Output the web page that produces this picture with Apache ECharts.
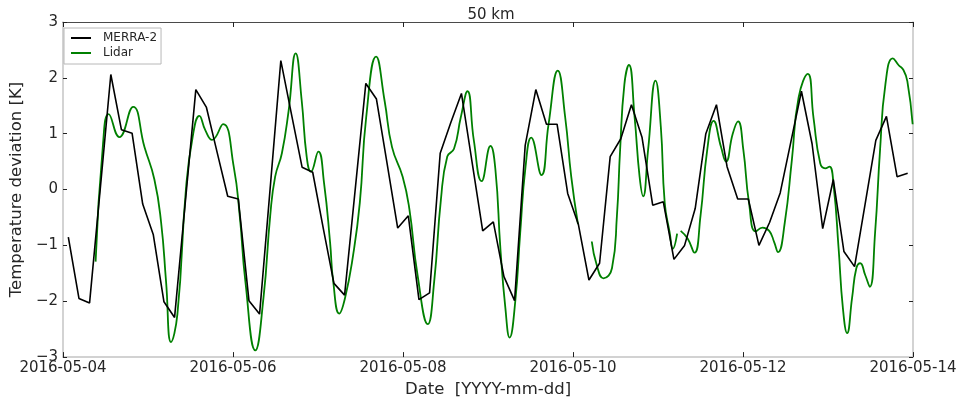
<!DOCTYPE html>
<html>
<head>
<meta charset="utf-8">
<script src="https://cdn.jsdelivr.net/npm/echarts@6/dist/echarts.min.js"></script>
<style>
  html, body { margin: 0; padding: 0; background: #fff; }
  #chart { width: 960px; height: 403px; }
</style>
</head>
<body>
<div id="chart"></div>
<script>
// Temperature deviation at 50 km, 2016-05-04 .. 2016-05-14
// x positions are hours since 2016-05-04 00:00 UTC

const dateTicks = ['2016-05-04', '2016-05-06', '2016-05-08', '2016-05-10', '2016-05-12', '2016-05-14'];
const yTicks = [-3, -2, -1, 0, 1, 2, 3];

// MERRA-2: 3-hourly values, first sample at 01:30 UTC
const merraStartHour = 1.5;
const merraStepHours = 3;
const merraValues = [
  -0.85, -1.95, -2.03, 0.00, 2.06, 1.07, 1.01, -0.26, -0.81, -2.01,
  -2.29, -0.25, 1.79, 1.47, 0.67, -0.12, -0.17, -1.99, -2.23, 0.03,
  2.31, 1.35, 0.40, 0.31, -0.70, -1.68, -1.89, 0.00, 1.90, 1.62,
  0.47, -0.69, -0.47, -1.97, -1.85, 0.65, 1.20, 1.72, 0.49, -0.74,
  -0.58, -1.56, -1.99, 0.79, 1.79, 1.17, 1.17, -0.07, -0.62, -1.62,
  -1.32, 0.59, 0.91, 1.52, 0.93, -0.28, -0.22, -1.25, -1.00, -0.34,
  1.00, 1.52, 0.41, -0.17, -0.17, -1.00, -0.59, -0.06, 0.85, 1.76,
  0.82, -0.70, 0.18, -1.11, -1.38, -0.25, 0.88, 1.31, 0.23, 0.29
];

// Lidar: sample hours and values (null marks a gap in the record)
const lidarHours = [
  9.2, 11.3, 12.9, 15.9, 19.8, 23.0, 25.8, 27.7, 29.1, 30.5,
  32.3, 34.7, 36.6, 38.5, 40.2, 42.1, 45.2, 48.2, 49.9, 51.5,
  54.3, 56.6, 58.5, 59.9, 61.8, 63.7, 65.7, 67.4, 68.8, 70.0,
  72.1, 73.7, 75.4, 76.3, 78.0, 79.6, 81.9, 83.8, 85.6, 88.4,
  90.8, 92.9, 95.9, 97.8, 100.1, 103.0, 104.8, 106.7, 108.5, 110.4,
  112.3, 114.2, 116.0, 118.2, 120.7, 122.1, 123.5, 124.9, 126.1, 127.7,
  129.1, 130.6, 132.2, 135.1, 137.1, 139.7, 141.8, 143.5, 145.4, 147.0,
  149.3, 150.7, 152.6, 155.0, 156.4, 157.3, 158.5, 159.8, 161.4, 162.8,
  163.8, 165.2, 167.3, 168.8, 169.9, 171.3, 172.2, 173.4, 173.9, 174.4,
  176.4, 178.3, 180.0, 181.9, 183.7, 185.8, 187.2, 189.1, 190.6, 192.1,
  193.7, 195.6, 197.5, 199.4, 200.8, 201.9, 203.8, 205.8, 207.7, 210.3,
  211.9, 213.8, 215.2, 216.4, 217.6, 219.0, 220.2, 221.4, 222.8, 224.0,
  225.1, 226.5, 227.8, 229.3, 230.7, 232.2, 234.3, 235.9, 237.3, 238.4,
  239.9
];
const lidarValues = [
  -1.29, 0.82, 1.35, 0.94, 1.48, 0.76, 0.18, -0.59, -1.65, -2.73,
  -2.23, 0.00, 0.94, 1.32, 1.06, 0.89, 1.17, 0.41, -0.47, -1.65,
  -2.88, -1.94, -0.47, 0.23, 0.65, 1.41, 2.44, 1.59, 0.59, 0.32,
  0.68, 0.12, -0.94, -1.65, -2.22, -1.95, -1.18, -0.24, 1.29, 2.38,
  1.59, 0.76, 0.23, -0.35, -1.53, -2.41, -1.65, -0.18, 0.59, 0.73,
  1.29, 1.76, 0.88, 0.15, 0.78, 0.35, -1.06, -2.12, -2.65, -2.00,
  -0.77, 0.41, 0.93, 0.26, 1.17, 2.13, 1.29, 0.23, -0.62, null,
  -0.93, -1.35, -1.59, -1.41, -0.47, 0.71, 1.88, 2.23, 1.29, 0.23,
  -0.12, 0.71, 1.95, 1.12, -0.24, -0.77, -1.06, -0.79, null, -0.74,
  -0.88, -1.13, -0.47, 0.71, 1.23, 0.76, 0.50, 1.00, 1.22, 0.71,
  -0.24, -0.75, -0.68, -0.74, -0.94, -1.12, -0.59, 0.53, 1.65, 2.07,
  1.29, 0.47, 0.38, 0.41, 0.06, -1.06, -2.12, -2.57, -1.94, -1.41,
  -1.32, -1.53, -1.74, -0.77, 0.71, 1.88, 2.35, 2.23, 2.14, 1.94,
  1.17
];

const merraData = merraValues.map((v, i) => [merraStartHour + i * merraStepHours, v]);
const lidarData = lidarHours.map((h, i) => [h, lidarValues[i]]);

const FONT = 'DejaVu Sans';
const TEXT = '#262626';
const FRAME_LIGHT = '#c4c4c4';
const FRAME_DARK = '#4a4a4a';
const TICK = '#222';

const hourFormatter = v => {
  const idx = Math.round(v / 48);
  return dateTicks[idx] !== undefined ? dateTicks[idx] : '';
};
const yFormatter = v => (v < 0 ? '\u2212' + Math.abs(v) : String(v));

const chart = echarts.init(document.getElementById('chart'), null, { renderer: 'canvas' });

chart.setOption({
  animation: false,
  backgroundColor: '#fff',
  title: {
    text: '50 km',
    left: 486,
    top: 3,
    textAlign: 'center',
    textStyle: { fontFamily: FONT, fontSize: 15, fontWeight: 'normal', color: TEXT }
  },
  legend: {
    orient: 'vertical',
    left: 64,
    top: 28,
    padding: [4, 4, 5, 7],
    itemGap: 3,
    itemWidth: 20,
    itemHeight: 2,
    icon: 'rect',
    backgroundColor: '#fff',
    borderColor: '#b8b8b8',
    borderWidth: 1,
    borderRadius: 0,
    textStyle: { fontFamily: FONT, fontSize: 12, color: TEXT, padding: [0, 0, 0, 7] },
    data: ['MERRA-2', 'Lidar']
  },
  grid: { left: 60, right: 47, top: 22, bottom: 42, containLabel: false },
  xAxis: [
    {
      type: 'value', position: 'bottom', min: 0, max: 240, interval: 48,
      name: 'Date  [YYYY-mm-dd]', nameLocation: 'middle', nameGap: 23,
      nameTextStyle: { fontFamily: FONT, fontSize: 16.5, color: TEXT },
      axisLine: { onZero: false, lineStyle: { color: FRAME_LIGHT, width: 1.5 } },
      axisTick: { inside: true, length: 5, lineStyle: { color: TICK, width: 1 } },
      axisLabel: { formatter: hourFormatter, fontFamily: FONT, fontSize: 15, color: TEXT, margin: 4 },
      splitLine: { show: false }
    },
    {
      type: 'value', position: 'top', min: 0, max: 240, interval: 48,
      axisLine: { onZero: false, lineStyle: { color: FRAME_DARK, width: 1.2 } },
      axisTick: { inside: true, length: 5, lineStyle: { color: TICK, width: 1 } },
      axisLabel: { show: false },
      splitLine: { show: false }
    }
  ],
  yAxis: [
    {
      type: 'value', position: 'left', min: yTicks[0], max: yTicks[yTicks.length - 1], interval: 1,
      name: 'Temperature deviation [K]', nameLocation: 'middle', nameGap: 26, nameRotate: 90,
      nameTextStyle: { fontFamily: FONT, fontSize: 16.5, color: TEXT },
      axisLine: { onZero: false, lineStyle: { color: FRAME_LIGHT, width: 1.5 } },
      axisTick: { inside: true, length: 4, lineStyle: { color: TICK, width: 1 } },
      axisLabel: { formatter: yFormatter, fontFamily: FONT, fontSize: 15, color: TEXT, margin: 5 },
      splitLine: { show: false }
    },
    {
      type: 'value', position: 'right', min: yTicks[0], max: yTicks[yTicks.length - 1], interval: 1,
      axisLine: { onZero: false, lineStyle: { color: FRAME_LIGHT, width: 1.5 } },
      axisTick: { inside: true, length: 4, lineStyle: { color: TICK, width: 1 } },
      axisLabel: { show: false },
      splitLine: { show: false }
    }
  ],
  series: [
    {
      name: 'MERRA-2', type: 'line', xAxisIndex: 0, yAxisIndex: 0,
      data: merraData, symbol: 'none', smooth: false,
      color: '#000',
      lineStyle: { color: '#000', width: 1.6 },
      z: 3
    },
    {
      name: 'Lidar', type: 'line', xAxisIndex: 0, yAxisIndex: 0,
      data: lidarData, symbol: 'none', smooth: 0.5,
      connectNulls: false,
      color: '#008000',
      lineStyle: { color: '#008000', width: 1.8 },
      z: 2
    }
  ]
});
</script>
</body>
</html>
